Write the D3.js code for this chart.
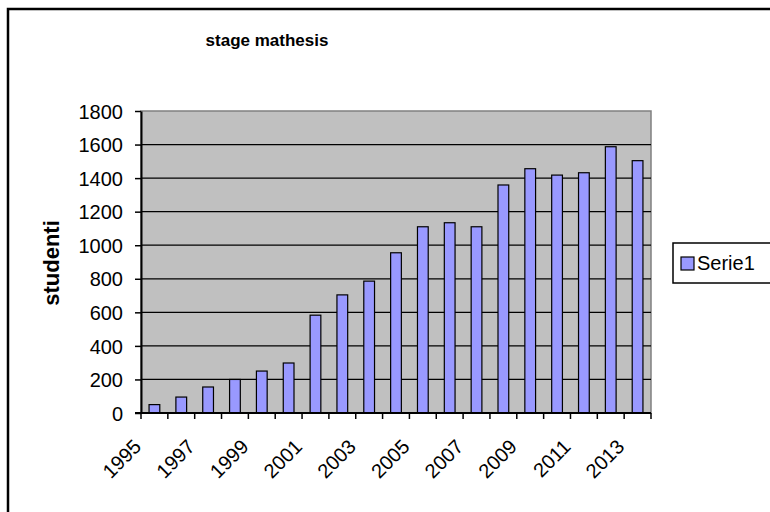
<!DOCTYPE html>
<html>
<head>
<meta charset="utf-8">
<script src="https://cdn.jsdelivr.net/npm/d3@7"></script>
<style>
  body { margin: 0; background: #fff; }
  svg { display: block; }
  svg text { font-family: "Liberation Sans", Arial, sans-serif; fill: #000; }
</style>
</head>
<body>
<div id="chart"></div>
<script>
// data
var years = d3.range(1995, 2014).map(String);
var studenti = [50, 95, 155, 200, 250, 298, 583, 704, 786, 955, 1110, 1134, 1110, 1359, 1456, 1418, 1432, 1587, 1504];
var yTicks = [0, 200, 400, 600, 800, 1000, 1200, 1400, 1600, 1800];
var yearLabels = ["1995", "1997", "1999", "2001", "2003", "2005", "2007", "2009", "2011", "2013"];

var width = 770, height = 512;
var plot = { left: 141, right: 651, top: 111, bottom: 413 };

var svg = d3.select("#chart")
  .append("svg")
  .attr("width", width)
  .attr("height", height);

// chart area border (runs off the right and bottom edge)
svg.append("rect")
  .attr("x", 8).attr("y", 9)
  .attr("width", 900).attr("height", 700)
  .attr("fill", "#fff")
  .attr("stroke", "#000")
  .attr("stroke-width", 2.5);

var x = d3.scaleBand()
  .domain(years)
  .range([plot.left, plot.right])
  .paddingInner(0.6)
  .paddingOuter(0.3);

// band without padding, for ticks between categories
var xb = d3.scaleBand()
  .domain(years)
  .range([plot.left, plot.right]);

var y = d3.scaleLinear()
  .domain([0, 1800])
  .range([plot.bottom, plot.top]);

// plot background
svg.append("rect")
  .attr("x", plot.left).attr("y", plot.top)
  .attr("width", plot.right - plot.left)
  .attr("height", plot.bottom - plot.top)
  .attr("fill", "#c0c0c0")
  .attr("stroke", "#808080")
  .attr("stroke-width", 1.5);

// gridlines
svg.append("g")
  .selectAll("line")
  .data(yTicks.filter(d => d > 0 && d < 1800))
  .enter().append("line")
  .attr("x1", plot.left).attr("x2", plot.right)
  .attr("y1", d => y(d)).attr("y2", d => y(d))
  .attr("stroke", "#000")
  .attr("stroke-width", 1.3);

// bars
svg.append("g")
  .selectAll("rect")
  .data(studenti)
  .enter().append("rect")
  .attr("x", (d, i) => x(years[i]))
  .attr("y", d => y(d))
  .attr("width", x.bandwidth())
  .attr("height", d => y(0) - y(d))
  .attr("fill", "#9999ff")
  .attr("stroke", "#000")
  .attr("stroke-width", 1.2);

// y axis
var yAxis = svg.append("g")
  .attr("transform", "translate(" + plot.left + ",0)")
  .attr("font-family", null)
  .call(d3.axisLeft(y).tickValues(yTicks).tickFormat(d3.format("d")).tickSize(6).tickSizeOuter(0).tickPadding(12));
yAxis.attr("font-family", "Liberation Sans, Arial, sans-serif");
yAxis.select(".domain").attr("stroke-width", 2);
yAxis.selectAll(".tick line").attr("stroke-width", 1.5);
yAxis.selectAll("text")
  .style("font-size", "20px")
  .attr("dy", "0.36em");

// x axis: ticks at category boundaries
var xTickPos = years.map(d => xb(d)).concat([plot.right]);
var xAxis = svg.append("g");
xAxis.append("line")
  .attr("x1", plot.left - 6).attr("x2", plot.right)
  .attr("y1", plot.bottom).attr("y2", plot.bottom)
  .attr("stroke", "#000")
  .attr("stroke-width", 2);
xAxis.selectAll("line.tick")
  .data(xTickPos)
  .enter().append("line")
  .attr("class", "tick")
  .attr("x1", d => d).attr("x2", d => d)
  .attr("y1", plot.bottom).attr("y2", plot.bottom + 6)
  .attr("stroke", "#000")
  .attr("stroke-width", 1.5);
xAxis.selectAll("text")
  .data(yearLabels)
  .enter().append("text")
  .attr("text-anchor", "end")
  .attr("transform", d => "translate(" + (xb(d) + xb.bandwidth() / 2 - 12) + "," + 448 + ") rotate(-45)")
  .style("font-size", "20px")
  .text(d => d);

// y axis title
svg.append("text")
  .attr("transform", "translate(59,263) rotate(-90)")
  .attr("text-anchor", "middle")
  .style("font-size", "22px")
  .style("font-weight", "bold")
  .text("studenti");

// chart title
svg.append("text")
  .attr("x", 267).attr("y", 46)
  .attr("text-anchor", "middle")
  .style("font-size", "17px")
  .style("font-weight", "bold")
  .text("stage mathesis");

// legend
var legend = svg.append("g");
legend.append("rect")
  .attr("x", 673).attr("y", 243)
  .attr("width", 200).attr("height", 40)
  .attr("fill", "#fff")
  .attr("stroke", "#000")
  .attr("stroke-width", 1.5);
legend.append("rect")
  .attr("x", 681).attr("y", 257)
  .attr("width", 13).attr("height", 13)
  .attr("fill", "#9999ff")
  .attr("stroke", "#000")
  .attr("stroke-width", 1.2);
legend.append("text")
  .attr("x", 697).attr("y", 270)
  .style("font-size", "20px")
  .text("Serie1");
</script>
</body>
</html>
